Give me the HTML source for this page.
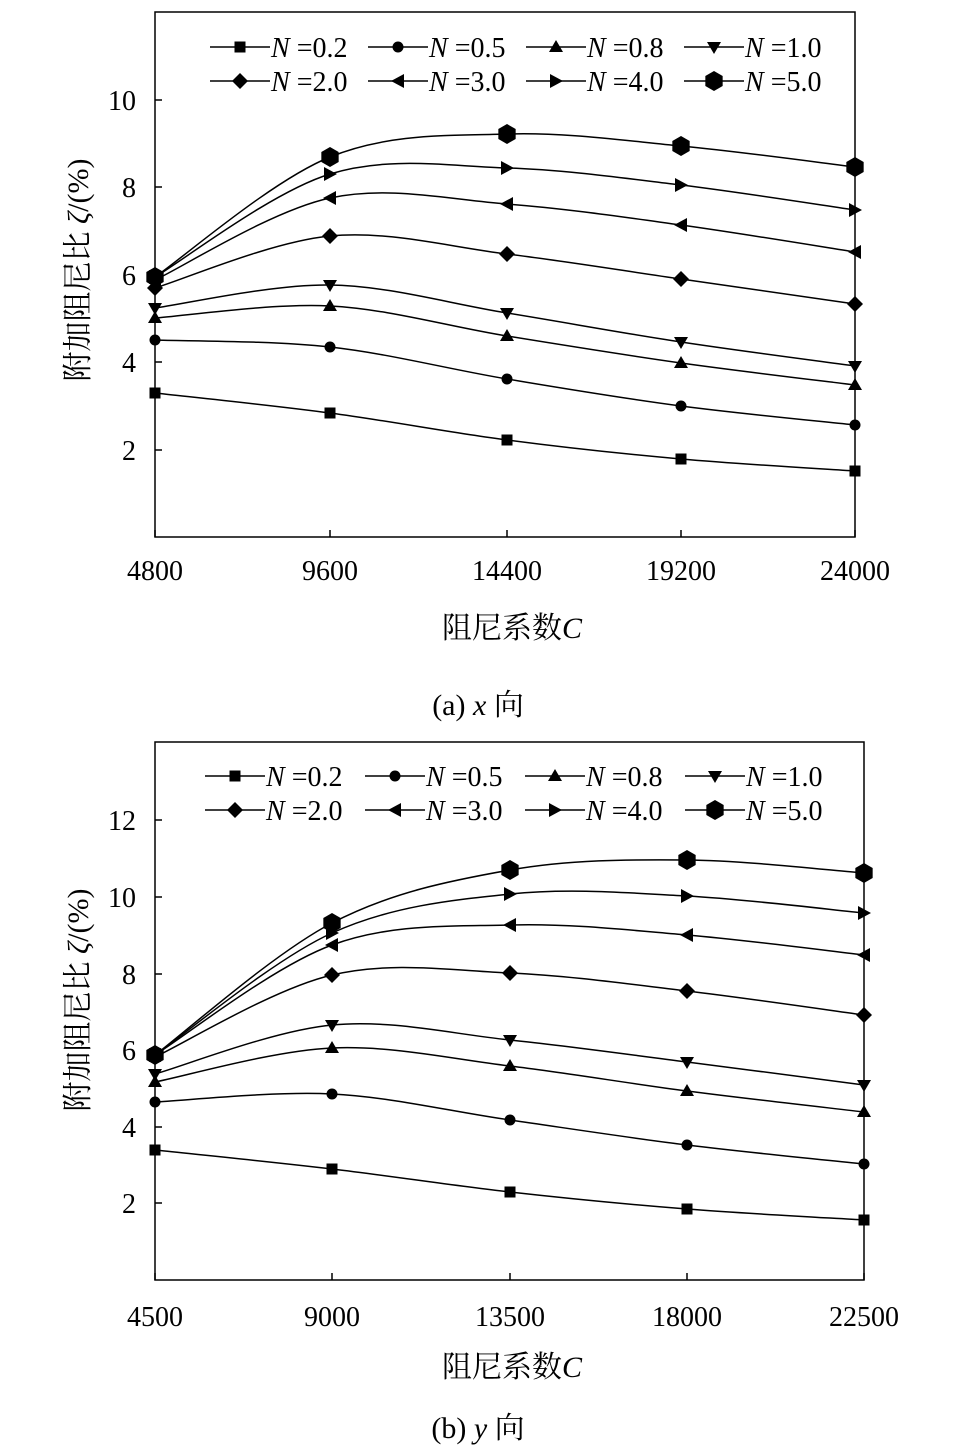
<!DOCTYPE html>
<html><head><meta charset="utf-8"><style>
body{margin:0;background:#fff;}
svg{display:block;font-family:"Liberation Serif","Noto Serif CJK SC",serif;}
</style></head><body>
<svg id="s" width="960" height="1456" viewBox="0 0 960 1456" xmlns="http://www.w3.org/2000/svg">
<rect width="960" height="1456" fill="#fff"/>
<g font-size="28" fill="#000">
<text x="155" y="580" text-anchor="middle">4800</text>
<text x="330" y="580" text-anchor="middle">9600</text>
<text x="507" y="580" text-anchor="middle">14400</text>
<text x="681" y="580" text-anchor="middle">19200</text>
<text x="855" y="580" text-anchor="middle">24000</text>
<text x="136" y="460" text-anchor="end">2</text>
<text x="136" y="372" text-anchor="end">4</text>
<text x="136" y="285" text-anchor="end">6</text>
<text x="136" y="197" text-anchor="end">8</text>
<text x="136" y="110" text-anchor="end">10</text>
<text x="512" y="638" text-anchor="middle" font-size="30">阻尼系数<tspan font-style="italic">C</tspan></text>
<text x="478" y="715" text-anchor="middle" font-size="30">(a) <tspan font-style="italic">x</tspan> 向</text>
<text transform="translate(88,270) rotate(-90)" text-anchor="middle" font-size="30">附加阻尼比 <tspan font-style="italic">ζ</tspan>/(%)</text>

<text x="155" y="1326" text-anchor="middle">4500</text>
<text x="332" y="1326" text-anchor="middle">9000</text>
<text x="510" y="1326" text-anchor="middle">13500</text>
<text x="687" y="1326" text-anchor="middle">18000</text>
<text x="864" y="1326" text-anchor="middle">22500</text>
<text x="136" y="1213" text-anchor="end">2</text>
<text x="136" y="1137" text-anchor="end">4</text>
<text x="136" y="1060" text-anchor="end">6</text>
<text x="136" y="984" text-anchor="end">8</text>
<text x="136" y="907" text-anchor="end">10</text>
<text x="136" y="830" text-anchor="end">12</text>
<text x="512" y="1377" text-anchor="middle" font-size="30">阻尼系数<tspan font-style="italic">C</tspan></text>
<text x="478" y="1438" text-anchor="middle" font-size="30">(b) <tspan font-style="italic">y</tspan> 向</text>
<text transform="translate(88,1000) rotate(-90)" text-anchor="middle" font-size="30">附加阻尼比 <tspan font-style="italic">ζ</tspan>/(%)</text>

<text x="271" y="57"><tspan font-style="italic">N</tspan> =0.2</text>
<text x="429" y="57"><tspan font-style="italic">N</tspan> =0.5</text>
<text x="587" y="57"><tspan font-style="italic">N</tspan> =0.8</text>
<text x="745" y="57"><tspan font-style="italic">N</tspan> =1.0</text>
<text x="271" y="91"><tspan font-style="italic">N</tspan> =2.0</text>
<text x="429" y="91"><tspan font-style="italic">N</tspan> =3.0</text>
<text x="587" y="91"><tspan font-style="italic">N</tspan> =4.0</text>
<text x="745" y="91"><tspan font-style="italic">N</tspan> =5.0</text>

<text x="266" y="786"><tspan font-style="italic">N</tspan> =0.2</text>
<text x="426" y="786"><tspan font-style="italic">N</tspan> =0.5</text>
<text x="586" y="786"><tspan font-style="italic">N</tspan> =0.8</text>
<text x="746" y="786"><tspan font-style="italic">N</tspan> =1.0</text>
<text x="266" y="820"><tspan font-style="italic">N</tspan> =2.0</text>
<text x="426" y="820"><tspan font-style="italic">N</tspan> =3.0</text>
<text x="586" y="820"><tspan font-style="italic">N</tspan> =4.0</text>
<text x="746" y="820"><tspan font-style="italic">N</tspan> =5.0</text>
</g>
<g id="g" stroke="#000" fill="none" stroke-width="1.5"></g>
</svg>
<script>
var g=document.getElementById('g'),NS='http://www.w3.org/2000/svg';
function el(t,a){var e=document.createElementNS(NS,t);for(var k in a)e.setAttribute(k,a[k]);g.appendChild(e);return e;}
function mk(type,x,y){
 var s=5.5,p;
 if(type==0) return el('rect',{x:x-s,y:y-s,width:2*s,height:2*s,fill:'#000',stroke:'none'});
 if(type==1) return el('circle',{cx:x,cy:y,r:s,fill:'#000',stroke:'none'});
 if(type==2) p=[[x,y-7],[x+7,y+5],[x-7,y+5]];
 if(type==3) p=[[x,y+7],[x+7,y-5],[x-7,y-5]];
 if(type==4) p=[[x,y-8],[x+8,y],[x,y+8],[x-8,y]];
 if(type==5) p=[[x-7,y],[x+6,y-7],[x+6,y+7]];
 if(type==6) p=[[x+7,y],[x-6,y-7],[x-6,y+7]];
 if(type==7){p=[];for(var i=0;i<6;i++){var a=Math.PI/3*i+Math.PI/6;p.push([x+10*Math.cos(a),y+10*Math.sin(a)]);}}
 el('polygon',{points:p.map(function(q){return q.join(',')}).join(' '),fill:'#000',stroke:'none'});
}
function curve(xs,ys){
 var d='M'+xs[0]+','+ys[0];
 for(var i=0;i<xs.length-1;i++){
  var x0=xs[Math.max(i-1,0)],y0=ys[Math.max(i-1,0)],x1=xs[i],y1=ys[i],x2=xs[i+1],y2=ys[i+1],x3=xs[Math.min(i+2,xs.length-1)],y3=ys[Math.min(i+2,xs.length-1)];
  d+=' C'+(x1+(x2-x0)/6)+','+(y1+(y2-y0)/6)+' '+(x2-(x3-x1)/6)+','+(y2-(y3-y1)/6)+' '+x2+','+y2;
 }
 el('path',{d:d});
}
function chart(L,R,T,B,xs,yt,data,lx,ly,ydiv){
 el('rect',{x:L,y:T,width:R-L,height:B-T});
 xs.forEach(function(x){el('line',{x1:x,y1:B,x2:x,y2:B-7});});
 yt.forEach(function(y){el('line',{x1:L,y1:y,x2:L+7,y2:y});});
 data.forEach(function(ys,k){curve(xs,ys);xs.forEach(function(x,i){mk(k,x,ys[i]);});});
 for(var k=0;k<8;k++){var x=lx+(k%4)*ydiv,y=ly+(k>3?34:0);
  el('line',{x1:x,y1:y,x2:x+60,y2:y});mk(k,x+30,y);}
}
chart(155,855,12,537,[155,330,507,681,855],[450,362,275,187,100],[
[393,413,440,459,471],[340,347,379,406,425],[318,306,336,363,385],[308,285,313,342,366],
[288,236,254,279,304],[280,198,204,225,252],[277,174,168,185,210],[277,157,134,146,167]],210,47,158);
chart(155,864,742,1280,[155,332,510,687,864],[1203,1127,1050,974,897,820],[
[1150,1169,1192,1209,1220],[1102,1094,1120,1145,1164],[1082,1048,1066,1091,1112],[1074,1025,1040,1062,1085],
[1057,975,973,991,1015],[1055,945,925,935,955],[1055,933,894,896,913],[1055,923,870,860,873]],205,776,160);
</script>
</body></html>
